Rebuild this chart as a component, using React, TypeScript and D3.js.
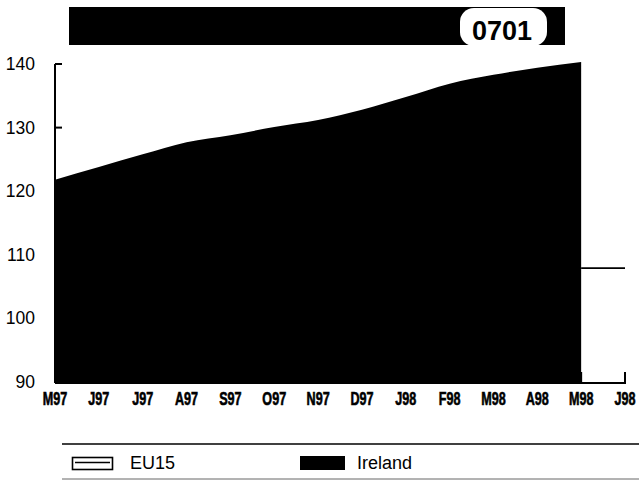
import React from "react";
import * as d3 from "d3";

// Monthly labels, May 1997 to June 1998
const months = ["M97", "J97", "J97", "A97", "S97", "O97", "N97", "D97", "J98", "F98", "M98", "A98", "M98", "J98"];
// Ireland index, May 1997 to May 1998
const ireland = [121.8, 123.8, 125.8, 127.7, 128.8, 130.1, 131.2, 132.8, 134.8, 136.9, 138.3, 139.4, 140.3];
// EU15 index for the last two months (May and June 1998)
const eu15Start = 12;
const eu15 = [107.9, 107.9];
const yTicks = [90, 100, 110, 120, 130, 140];
const headerCode = "0701";
const legendItems = ["EU15", "Ireland"];

const W = 639;
const H = 481;

export default function App() {
  const x = d3.scaleLinear().domain([0, months.length - 1]).range([55, 625]);
  const y = d3.scaleLinear().domain([90, 140]).range([382, 64]);

  const area = d3
    .area<number>()
    .x((_, i) => x(i))
    .y0(y(90))
    .y1((d) => y(d))
    .curve(d3.curveMonotoneX);

  const euLine = d3
    .line<number>()
    .x((_, i) => x(eu15Start + i))
    .y((d) => y(d));

  const font = "'Liberation Sans', Arial, Helvetica, sans-serif";

  return (
    <svg
      width={W}
      height={H}
      viewBox={`0 0 ${W} ${H}`}
      style={{ position: "absolute", left: 0, top: 0, background: "#fff" }}
      fontFamily={font}
    >
      <rect x={0} y={0} width={W} height={H} fill="#fff" />

      {/* header band with code badge */}
      <rect x={69} y={7} width={496} height={38} fill="#000" />
      <rect x={460} y={8} width={87} height={38} rx={14} ry={14} fill="#fff" />
      <text x={472} y={40} fontSize={27} fontWeight="bold" fill="#000">
        {headerCode}
      </text>

      {/* EU15 line */}
      <path d={euLine(eu15) ?? ""} fill="none" stroke="#000" strokeWidth={1.6} />

      {/* Ireland area */}
      <path d={area(ireland) ?? ""} fill="#000" />

      {/* y axis */}
      <line x1={55} x2={55} y1={y(140)} y2={y(90) + 1} stroke="#000" strokeWidth={2} />
      {yTicks.map((t) => (
        <g key={t}>
          <line x1={55} x2={62} y1={y(t)} y2={y(t)} stroke="#000" strokeWidth={2} />
          <text x={35} y={y(t) + 6} fontSize={17.5} textAnchor="end" fill="#000">
            {t}
          </text>
        </g>
      ))}

      {/* x axis */}
      <line x1={55} x2={626} y1={y(90) + 1} y2={y(90) + 1} stroke="#000" strokeWidth={2} />
      {months.map((m, i) => (
        <g key={i}>
          <line x1={x(i)} x2={x(i)} y1={y(90) + 1} y2={y(90) - 10} stroke="#000" strokeWidth={2} />
          <text
            transform={`translate(${x(i)},405) scale(0.72,1)`}
            fontSize={17.5}
            fontWeight="bold"
            textAnchor="middle"
            fill="#000"
            stroke="#000"
            strokeWidth={0.6}
          >
            {m}
          </text>
        </g>
      ))}

      {/* legend */}
      <line x1={62} x2={639} y1={444} y2={444} stroke="#000" strokeWidth={1.6} />
      <line x1={62} x2={639} y1={479} y2={479} stroke="#666" strokeWidth={1} />
      <rect x={72.5} y={457.5} width={40} height={12} fill="#fff" stroke="#000" strokeWidth={1.6} />
      <line x1={75} x2={110} y1={462.5} y2={462.5} stroke="#000" strokeWidth={1.4} />
      <text x={130} y={469} fontSize={18} fill="#000">
        {legendItems[0]}
      </text>
      <rect x={300} y={456} width={45} height={14} fill="#000" />
      <text x={357} y={469} fontSize={18} fill="#000">
        {legendItems[1]}
      </text>
    </svg>
  );
}
